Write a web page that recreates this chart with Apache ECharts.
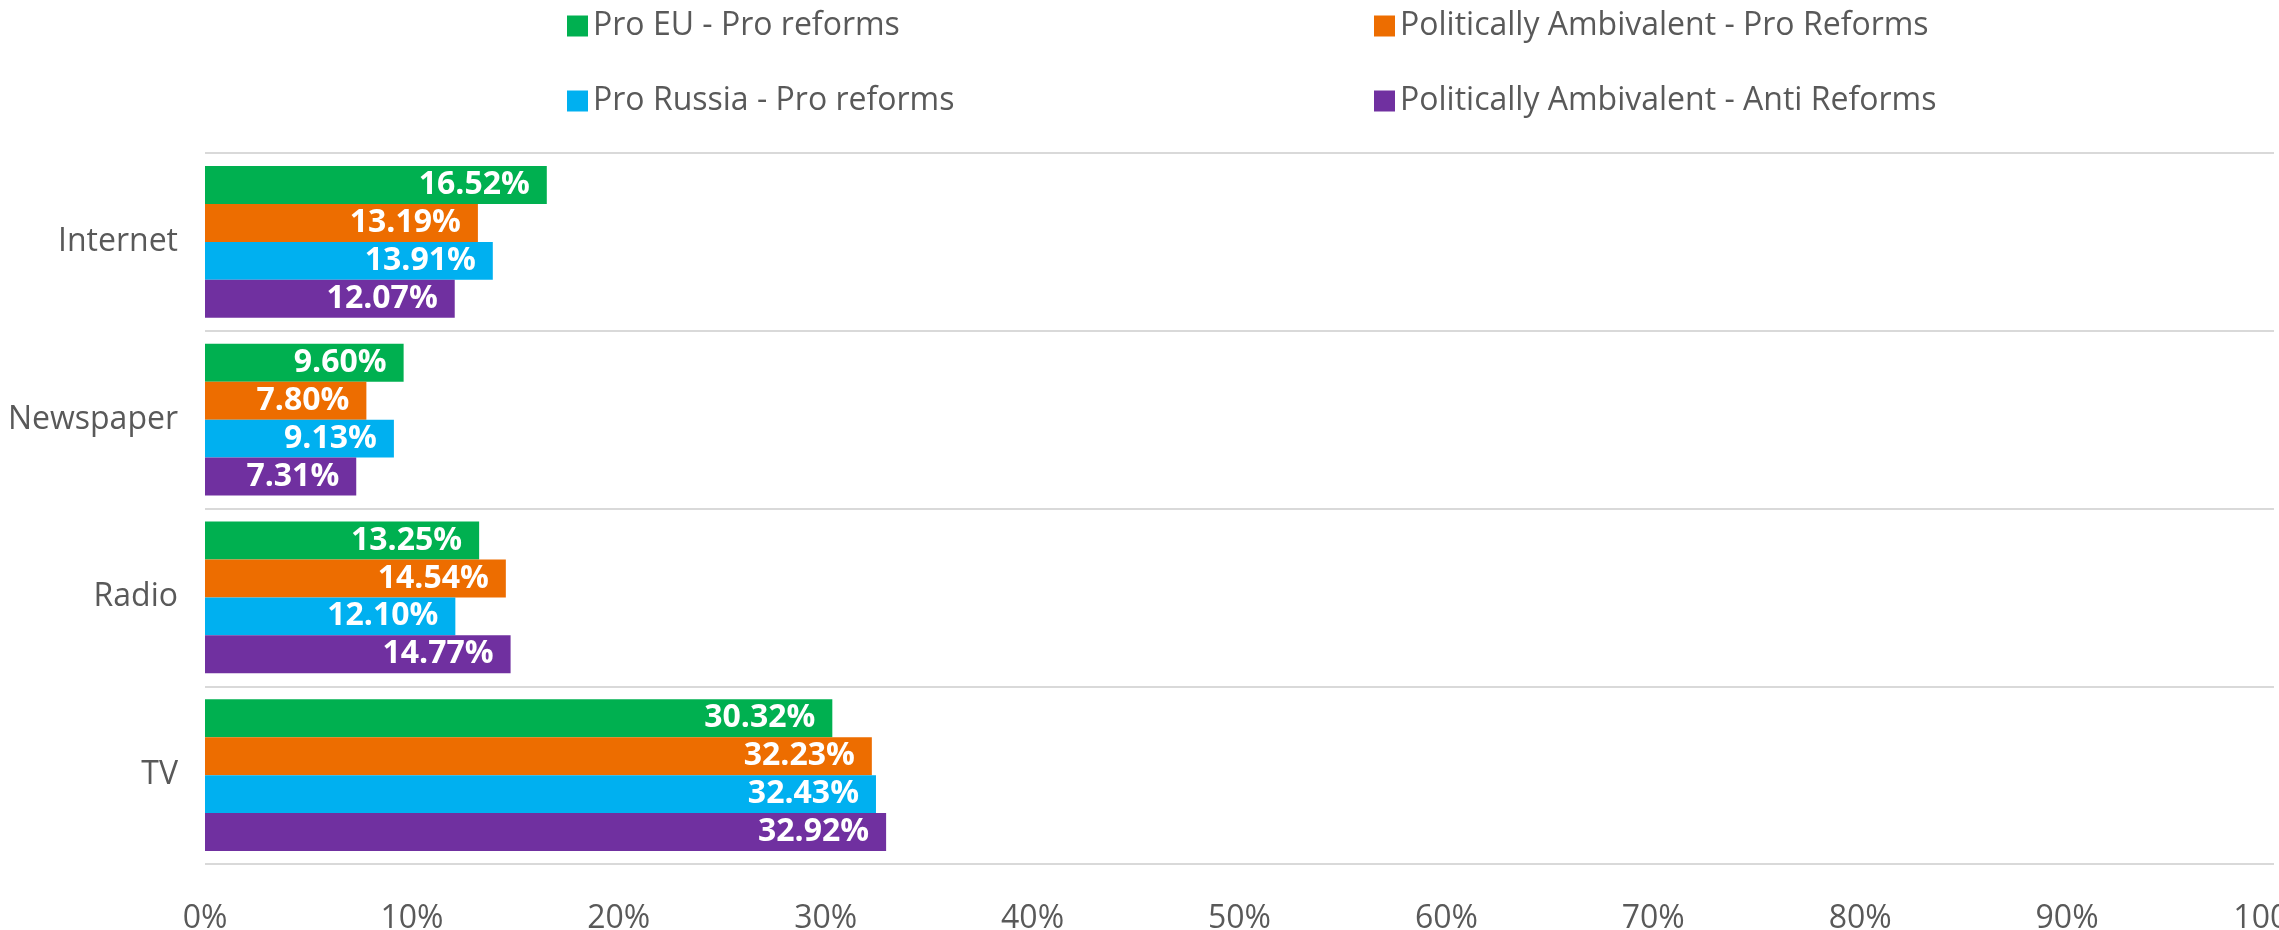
<!DOCTYPE html>
<html>
<head>
<meta charset="utf-8">
<script src="https://cdn.jsdelivr.net/npm/echarts@6/dist/echarts.min.js"></script>
<style>
  html, body { margin: 0; padding: 0; background: #ffffff; }
  #chart { width: 2279px; height: 930px; }
</style>
</head>
<body>
<div id="chart"></div>
<script>
const categories = ['Internet', 'Newspaper', 'Radio', 'TV'];
const seriesNames = [
  'Pro EU - Pro reforms',
  'Politically Ambivalent - Pro Reforms',
  'Pro Russia - Pro reforms',
  'Politically Ambivalent - Anti Reforms'
];
const proEuProReforms = [16.52, 9.60, 13.25, 30.32];
const ambivalentProReforms = [13.19, 7.80, 14.54, 32.23];
const proRussiaProReforms = [13.91, 9.13, 12.10, 32.43];
const ambivalentAntiReforms = [12.07, 7.31, 14.77, 32.92];
const seriesValues = [proEuProReforms, ambivalentProReforms, proRussiaProReforms, ambivalentAntiReforms];
const seriesColors = ['#00B050', '#ED6D00', '#00B0F0', '#7030A0'];
const axisTicks = { min: 0, max: 100, interval: 10 };

const FONT = '"Open Sans", "Noto Sans", sans-serif';
const chart = echarts.init(document.getElementById('chart'), null, { renderer: 'canvas' });

const legendCommon = {
  orient: 'vertical',
  icon: 'rect',
  itemWidth: 21,
  itemHeight: 21,
  itemGap: 43,
  top: 5,
  textStyle: { fontFamily: FONT, fontSize: 32, color: '#595959', lineHeight: 32 },
  selectedMode: false
};

const option = {
  backgroundColor: '#ffffff',
  animation: false,
  legend: [
    Object.assign({}, legendCommon, { left: 562, data: [seriesNames[0], seriesNames[2]] }),
    Object.assign({}, legendCommon, { left: 1369, data: [seriesNames[1], seriesNames[3]] })
  ],
  grid: { left: 205, right: 5, top: 153, bottom: 66, containLabel: false, outerBoundsMode: 'none' },
  xAxis: {
    type: 'value',
    min: axisTicks.min,
    max: axisTicks.max,
    interval: axisTicks.interval,
    axisLine: { show: false },
    axisTick: { show: false },
    splitLine: { show: false },
    axisLabel: {
      formatter: '{value}%',
      fontFamily: FONT,
      fontSize: 32,
      color: '#595959',
      margin: 39,
      hideOverlap: false,
      showMaxLabel: true
    }
  },
  yAxis: {
    type: 'category',
    data: categories,
    inverse: true,
    axisLine: { show: false },
    axisTick: { show: false },
    splitLine: { show: true, lineStyle: { color: '#D9D9D9', width: 2 } },
    axisLabel: {
      fontFamily: FONT,
      fontSize: 32,
      color: '#595959',
      margin: 27
    }
  },
  series: seriesNames.map((name, i) => ({
    name: name,
    type: 'bar',
    data: seriesValues[i],
    barGap: '0%',
    barCategoryGap: '14.6%',
    itemStyle: { color: seriesColors[i] },
    label: {
      show: true,
      position: 'insideRight',
      distance: 17,
      color: '#ffffff',
      fontFamily: FONT,
      fontWeight: 'bold',
      fontSize: 32,
      formatter: p => p.value.toFixed(2) + '%'
    }
  }))
};

chart.setOption(option);
</script>
</body>
</html>
